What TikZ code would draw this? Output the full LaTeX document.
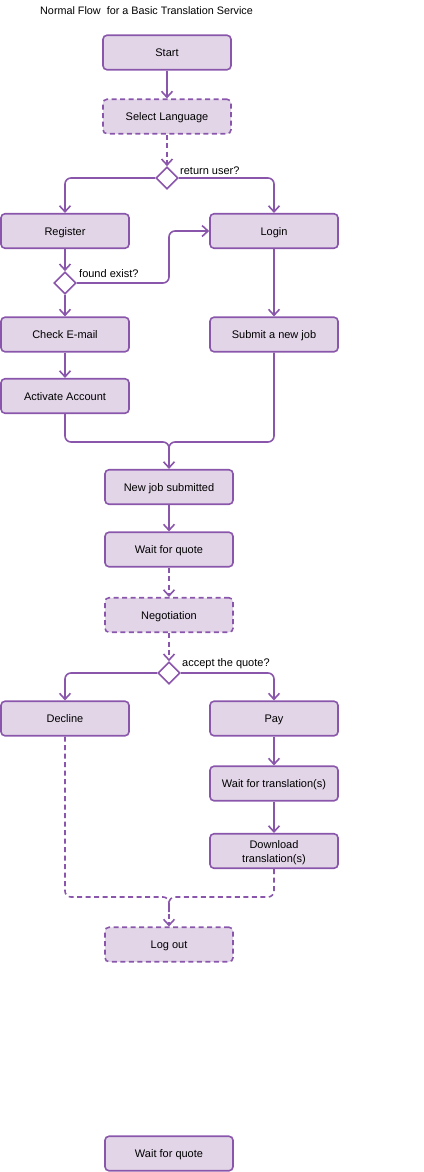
\documentclass[tikz,border=0pt]{standalone}
\usepackage{fontspec}
\setmainfont{Liberation Sans}
\usetikzlibrary{shapes.geometric,arrows.meta}
\definecolor{pstroke}{HTML}{8A56AC}
\definecolor{pfill}{HTML}{E1D5E7}
\tikzset{
  boxbase/.style={draw=pstroke, fill=pfill, line width=1.6pt, rounded corners=4pt,
    minimum width=128pt, minimum height=34.5pt, inner sep=0pt, align=center,
    font=\fontsize{11}{13}\selectfont},
  box/.style={boxbase, text height=8pt, text depth=0pt},
  dbox/.style={box, dash pattern=on 5pt off 3.5pt},
  dec/.style={draw=pstroke, fill=white, line width=1.6pt, diamond, aspect=1,
    minimum width=22pt, minimum height=22pt, inner sep=0pt},
  lbl/.style={anchor=west, inner sep=0pt, font=\fontsize{11}{13}\selectfont},
  arr/.style={draw=pstroke, line width=1.6pt, rounded corners=6pt,
    -{Straight Barb[length=6pt,width=11pt,line width=1.6pt]}},
  darr/.style={arr, dash pattern=on 5pt off 3.5pt},
  seg/.style={draw=pstroke, line width=1.6pt, rounded corners=6pt},
  dseg/.style={seg, dash pattern=on 5pt off 3.5pt}
}
\begin{document}
\begin{tikzpicture}[x=1pt,y=-1pt]
\useasboundingbox (0,0) rectangle (423,1172);
\node[lbl, font=\fontsize{10.8}{12}\selectfont] (title) at (40,10.5) {Normal Flow\ \ for a Basic Translation Service};

\node[box] (start) at (167,52.5) {Start};
\node[dbox] (sel) at (167,116.5) {Select Language};
\node[dec] (d1) at (167,178) {};
\node[lbl] (l1) at (180,171) {return user?};
\node[box] (reg) at (65,231) {Register};
\node[box] (login) at (274,231) {Login};
\node[dec] (d2) at (65,283) {};
\node[lbl] (l2) at (79,274) {found exist?};
\node[box] (chk) at (65,334.5) {Check E-mail};
\node[box] (sub) at (274,334.5) {Submit a new job};
\node[box] (act) at (65,396) {Activate Account};
\node[box] (nj) at (169,487) {New job submitted};
\node[box] (wq) at (169,549.5) {Wait for quote};
\node[dbox] (neg) at (169,615) {Negotiation};
\node[dec] (d3) at (169,673) {};
\node[lbl] (l3) at (182,664) {accept the quote?};
\node[box] (dcl) at (65,718.5) {Decline};
\node[box] (pay) at (274,718.5) {Pay};
\node[box] (wt) at (274,783.5) {Wait for translation(s)};
\node[boxbase, font=\fontsize{11}{14}\selectfont] (dl) at (274,851) {\rule{0pt}{11pt}Download\\translation(s)};
\node[dbox] (lo) at (169,944.5) {Log out};
\node[box] (wq2) at (169,1153.5) {Wait for quote};

\coordinate (m1) at (169,442);
\coordinate (m2) at (169,897);

\draw[arr] (start) -- (sel);
\draw[darr] (sel) -- (d1);
\draw[arr] (d1.west) -| (reg.north);
\draw[arr] (d1.east) -| (login.north);
\draw[arr] (reg) -- (d2);
\draw[arr] (d2.east) -- (169,283) -- (169,231) -- (login.west);
\draw[arr] (d2) -- (chk);
\draw[arr] (login) -- (sub);
\draw[arr] (chk) -- (act);
\draw[seg] (act.south) |- (m1) -- (169,460);
\draw[seg] (sub.south) |- (m1) -- (169,460);
\draw[arr] (m1) ++(0,8) -- (nj.north);
\draw[arr] (nj) -- (wq);
\draw[darr] (wq) -- (neg);
\draw[darr] (neg) -- (d3);
\draw[arr] (d3.west) -| (dcl.north);
\draw[arr] (d3.east) -| (pay.north);
\draw[arr] (pay) -- (wt);
\draw[arr] (wt) -- (dl);
\draw[dseg] (dcl.south) |- (m2) -- (169,912);
\draw[dseg] (dl.south) |- (m2) -- (169,912);
\draw[darr] (m2) ++(0,8) -- (lo.north);
\end{tikzpicture}
\end{document}
